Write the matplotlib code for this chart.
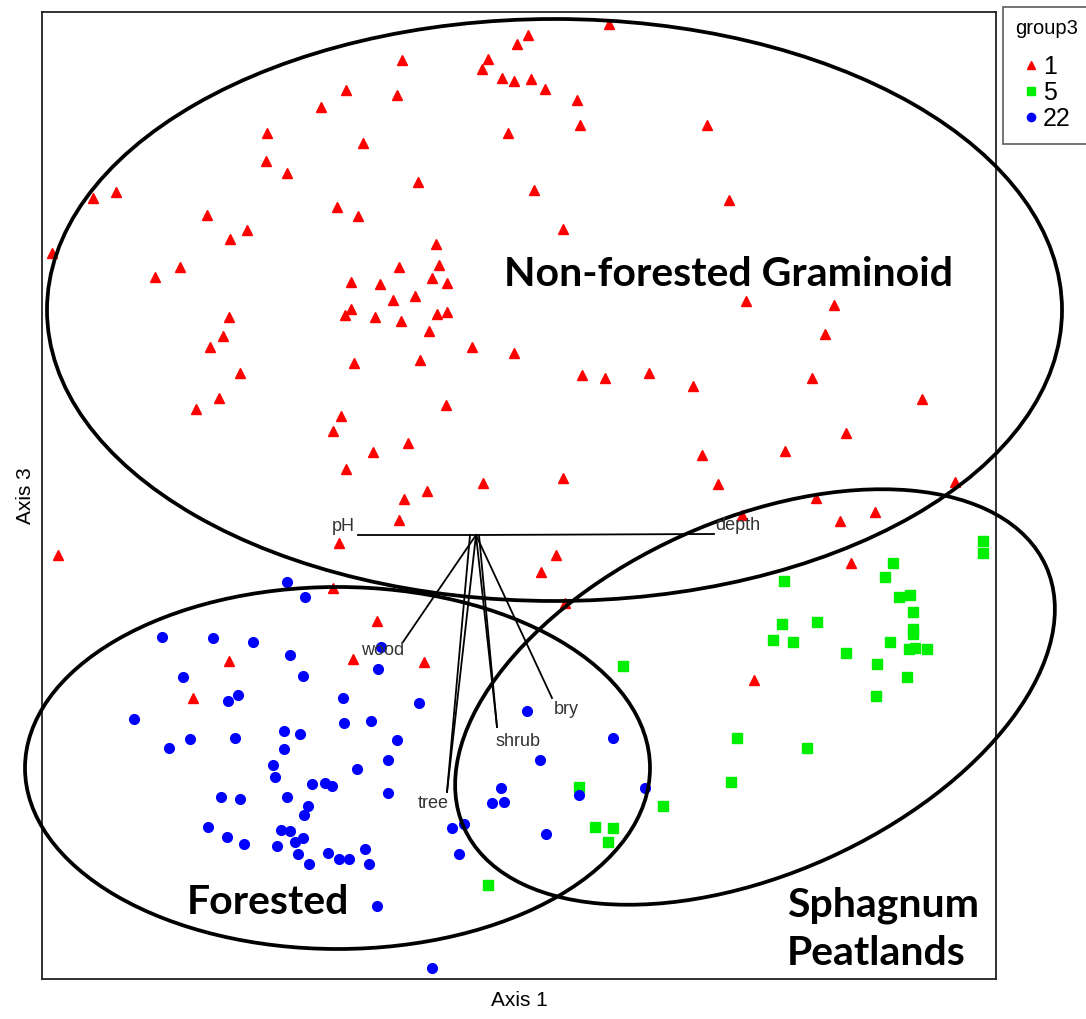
import matplotlib
matplotlib.use("Agg")
import matplotlib.pyplot as plt
from matplotlib.patches import Ellipse

# ---------------- data (ordination scores, arbitrary units) ----------------
# group 1 (red triangles)
g1_x = [304, 279, 225, 321, 224, 245, 51, 74, 295, 316, 165, 205, 188, 10, 113, 138,
        309, 309, 303, 187, 181, 168, 312, 198, 177, 154, 299, 291, 304,
        567, 486, 475, 360, 446, 440, 460, 472, 489, 503, 535, 355, 538, 466, 376, 492,
        521, 394, 357, 397, 338, 390, 405, 351, 373, 333, 359, 395, 405, 387, 430, 472,
        378, 540, 563, 607, 651, 404, 331, 366, 441, 521, 362, 385,
        665, 687, 704, 792, 783, 770, 880, 804, 660, 743, 676, 913, 774, 833,
        16, 297, 291, 187, 151, 311, 357, 514, 499, 523, 335, 382, 700, 798, 809, 712]
g1_y = [889, 872, 846, 836, 818, 806, 781, 787, 772, 763, 764, 749, 740, 726, 702, 712,
        697, 670, 664, 662, 643, 632, 616, 606, 581, 570, 563, 548, 510,
        955, 944, 935, 919, 920, 910, 901, 898, 900, 890, 879, 884, 854, 846, 797, 789,
        750, 735, 712, 714, 695, 701, 696, 679, 683, 662, 658, 665, 667, 648, 632, 626,
        619, 604, 601, 606, 593, 574, 527, 536, 496, 501, 480, 488,
        854, 779, 678, 674, 645, 601, 580, 546, 524, 528, 495, 497, 481, 467,
        424, 436, 391, 318, 281, 320, 459, 424, 407, 376, 358, 317, 464, 458, 416, 299]

# group 5 (green squares)
g5_x = [941, 941, 851, 843, 742, 857, 868, 871, 740, 775, 871, 871, 731, 751, 848, 804,
        867, 873, 885, 835, 865, 834, 695, 765, 689, 581, 537, 621, 553, 571, 566, 446]
g5_y = [438, 426, 416, 402, 398, 382, 384, 367, 355, 357, 350, 345, 339, 337, 337, 326,
        330, 331, 330, 315, 302, 283, 241, 231, 197, 313, 192, 173, 152, 151, 137, 94]

# group 22 (blue circles)
g22_x = [245, 263, 120, 171, 211, 248, 141, 261, 196, 186, 301, 92, 302, 242, 258, 148,
         127, 193, 242, 231, 233, 315, 270, 283, 290, 179, 198, 245, 266, 262, 166, 239,
         248, 185, 202, 235, 253, 261, 256, 286, 297, 307, 267,
         339, 336, 377, 329, 355, 346, 346, 485, 571, 498, 459, 450, 462, 537, 603, 410,
         422, 504, 323, 327, 417, 335, 390]
g22_y = [397, 382, 342, 341, 337, 324, 302, 303, 284, 278, 281, 260, 256, 248, 245, 240,
         231, 241, 230, 214, 202, 210, 195, 196, 193, 182, 180, 182, 173, 164, 152, 149,
         148, 142, 135, 133, 137, 141, 125, 126, 120, 120, 115,
         332, 310, 276, 258, 239, 219, 186, 268, 241, 219, 191, 176, 177, 184, 191, 151,
         155, 145, 130, 115, 125, 73, 11]

# environmental vectors (joint plot)
vec_origin = (434, 444)
vec_names = ["pH", "depth", "wood", "tree", "shrub", "bry"]
vec_dx = [-118, 238, -73, -29, 21, 76]
vec_dy = [0, 1, -107, -257, -192, -163]

# group ellipses
ell_names = ["Non-forested Graminoid", "Forested", "Sphagnum\nPeatlands"]
ell_cx = [512.5, 295.5, 713]
ell_cy = [669, 211, 282]
ell_w = [1015, 625, 638]
ell_h = [582, 362, 354]
ell_angle = [0, 0, 24.2]

legend_labels = ["1", "5", "22"]

# ---------------- figure ----------------
W, H = 1086, 1019
fig = plt.figure(figsize=(W / 100, H / 100), dpi=100)
ax = fig.add_axes([42 / W, (H - 979) / H, 954 / W, 967 / H])
ax.set_xlim(0, 954)
ax.set_ylim(0, 967)
ax.set_xticks([])
ax.set_yticks([])
for s in ax.spines.values():
    s.set_linewidth(1.3)
    s.set_color("#222222")

ms = 7
h1, = ax.plot(g1_x, g1_y, ls="none", marker="^", ms=ms, color="#ff0000",
              mec="#ff0000", zorder=2, label=legend_labels[0])
h5, = ax.plot(g5_x, g5_y, ls="none", marker="s", ms=ms - 0.5, color="#00ee00",
              mec="#00ee00", zorder=2, label=legend_labels[1])
h22, = ax.plot(g22_x, g22_y, ls="none", marker="o", ms=ms, color="#0000ff",
               mec="#0000ff", zorder=2, label=legend_labels[2])

for cx, cy, w, h, a in zip(ell_cx, ell_cy, ell_w, ell_h, ell_angle):
    e = Ellipse((cx, cy), w, h, angle=a, fill=False, lw=2.7, ec="black",
                zorder=3, clip_on=False)
    ax.add_patch(e)

# vectors
ox, oy = vec_origin
base_shift = {"tree": -6, "shrub": 3}
lab_style = {
    "pH": dict(ha="right", va="bottom", off=(-2, 0)),
    "depth": dict(ha="left", va="bottom", off=(1, 0)),
    "wood": dict(ha="right", va="top", off=(1, 0)),
    "tree": dict(ha="right", va="top", off=(1, -2)),
    "shrub": dict(ha="left", va="top", off=(-1, -4)),
    "bry": dict(ha="left", va="top", off=(1, -2)),
}
for name, dx, dy in zip(vec_names, vec_dx, vec_dy):
    ex, ey = ox + dx, oy + dy
    ax.plot([ox, ex], [oy, ey], color="black", lw=1.3, zorder=4)
    if name in base_shift:
        ax.plot([ox + base_shift[name], ex], [oy, ey], color="black", lw=1.3, zorder=4)
    st = lab_style[name]
    ax.annotate(name, (ex, ey), xytext=st["off"], textcoords="offset points",
                ha=st["ha"], va=st["va"], fontsize=13, color="#333333",
                family="Liberation Sans", zorder=5)

# region labels
ax.text(686, 704, ell_names[0], ha="center", va="center", fontsize=29.5,
        fontweight="bold", family="Lato", zorder=6)
ax.text(145, 77, ell_names[1], ha="left", va="center", fontsize=29.5,
        fontweight="bold", family="Lato", zorder=6)
ax.text(745, 50, ell_names[2], ha="left", va="center", fontsize=29.5,
        fontweight="bold", family="Lato", linespacing=1.38, zorder=6)

ax.set_xlabel("Axis 1", fontsize=15, family="Liberation Sans", labelpad=9)
ax.set_ylabel("Axis 3", fontsize=15, family="Liberation Sans", labelpad=5)

leg = ax.legend(handles=[h1, h5, h22], title="group3", loc="upper left",
                bbox_to_anchor=(1003 / W, 1 - 7 / H), bbox_transform=fig.transFigure,
                frameon=True, fancybox=False, edgecolor="#333333",
                prop={"family": "Liberation Sans", "size": 18},
                title_fontproperties={"family": "Liberation Sans", "size": 14.5},
                handlelength=0.6, handletextpad=0.2, labelspacing=0.08,
                borderpad=0.5, borderaxespad=0, markerscale=0.85)
leg.get_frame().set_linewidth(1.2)
try:
    leg._legend_box.sep = 12
except Exception:
    pass

fig.savefig("out.png", dpi=100)
